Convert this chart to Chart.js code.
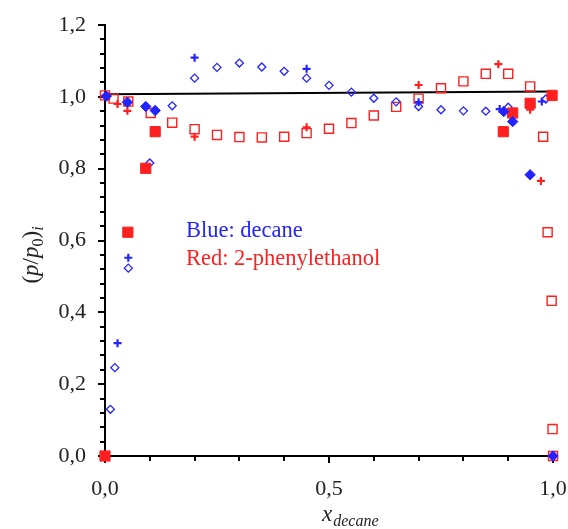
<!DOCTYPE html>
<html>
<head>
<meta charset="utf-8">
<script src="https://cdn.jsdelivr.net/npm/chart.js@4"></script>
<style>
  body { margin: 0; background: #fff; }
  canvas { display: block; }
</style>
</head>
<body>
<canvas id="graph" width="568" height="529"></canvas>
<script>
// decane: open diamonds, crosses, filled diamonds
const decOpenX = [0, 0.012, 0.022, 0.052, 0.10, 0.15, 0.20, 0.25, 0.30, 0.35, 0.40, 0.45, 0.50, 0.55, 0.60, 0.65, 0.70, 0.75, 0.80, 0.85, 0.90, 0.984];
const decOpenY = [0.0, 0.130, 0.246, 0.523, 0.816, 0.975, 1.052, 1.082, 1.094, 1.083, 1.071, 1.052, 1.032, 1.013, 0.996, 0.986, 0.973, 0.964, 0.961, 0.960, 0.971, 0.994];
const decCrossX = [0.028, 0.052, 0.20, 0.45, 0.70, 0.881, 0.975];
const decCrossY = [0.314, 0.552, 1.109, 1.078, 0.985, 0.966, 0.987];
const decFullX = [0.003, 0.05, 0.091, 0.112, 0.89, 0.91, 0.949, 1.0];
const decFullY = [1.002, 0.985, 0.973, 0.962, 0.959, 0.931, 0.783, 0.0];

// 2-phenylethanol: open squares, crosses, filled squares
const pheOpenX = [0, 0.019, 0.052, 0.102, 0.15, 0.20, 0.25, 0.30, 0.35, 0.40, 0.45, 0.50, 0.55, 0.60, 0.65, 0.70, 0.75, 0.80, 0.85, 0.90, 0.949, 0.978, 0.988, 0.997, 0.999, 1.0];
const pheOpenY = [1.004, 0.995, 0.987, 0.955, 0.928, 0.910, 0.894, 0.888, 0.887, 0.889, 0.899, 0.911, 0.927, 0.948, 0.972, 0.995, 1.024, 1.043, 1.064, 1.064, 1.029, 0.889, 0.623, 0.432, 0.075, 0.0];
const pheCrossX = [0.028, 0.05, 0.20, 0.45, 0.70, 0.878, 0.949, 0.973];
const pheCrossY = [0.980, 0.961, 0.889, 0.915, 1.033, 1.091, 0.964, 0.766];
const pheFullX = [0, 0.051, 0.091, 0.112, 0.889, 0.91, 0.949, 0.998];
const pheFullY = [0.0, 0.623, 0.801, 0.903, 0.903, 0.955, 0.982, 1.004];

// straight reference line
const refX = [0, 1];
const refY = [1.007, 1.015];

const xTicks = [0, 0.5, 1.0];
const yTicks = [0, 0.2, 0.4, 0.6, 0.8, 1.0, 1.2];

const BLUE = '#2323ff';
const RED = '#ff1f1f';
const SERIF = '"Liberation Serif", "DejaVu Serif", serif';

function pts(xs, ys) {
    return xs.map((x, i) => ({x: x, y: ys[i]}));
}

function marks(data, style, radius, color, filled, width) {
    return {
        data: data,
        pointStyle: style,
        pointRadius: radius,
        pointHoverRadius: radius,
        borderColor: color,
        backgroundColor: filled ? color : 'rgba(0,0,0,0)',
        pointBorderWidth: width,
        borderWidth: width,
        clip: false,
    };
}

// fixed axis size, no extra room for overhanging tick labels
function fixSize(s, w, h) {
    if (w) s.width = w;
    if (h) s.height = h;
    s.paddingTop = s.paddingBottom = s.paddingLeft = s.paddingRight = 0;
}

// minor/major ticks, axis titles and the colour key
const decor = {
    id: 'decor',
    beforeDatasetsDraw(chart) {
        const {ctx, chartArea: a, scales: {x, y}} = chart;
        ctx.save();
        ctx.strokeStyle = '#000';
        ctx.lineWidth = 2;
        ctx.beginPath();
        for (let i = 0; i <= 10; i++) {
            const px = Math.round(x.getPixelForValue(i / 10));
            const len = i % 5 === 0 ? 7 : 5;
            ctx.moveTo(px, a.bottom);
            ctx.lineTo(px, a.bottom + len);
        }
        for (let i = 0; i <= 30; i++) {
            const py = Math.round(y.getPixelForValue(i * 0.04));
            const len = i % 5 === 0 ? 7 : 5;
            ctx.moveTo(a.left, py);
            ctx.lineTo(a.left - len, py);
        }
        ctx.stroke();
        ctx.restore();
    },
    afterDraw(chart) {
        const {ctx} = chart;
        ctx.save();
        ctx.fillStyle = '#222';
        ctx.textBaseline = 'alphabetic';

        // x axis title: x_decane
        let cx = 322;
        ctx.font = 'italic 23px ' + SERIF;
        ctx.fillText('x', cx, 521);
        cx += ctx.measureText('x').width + 1;
        ctx.font = 'italic 16px ' + SERIF;
        ctx.fillText('decane', cx, 526);

        // y axis title: (p/p0)i, rotated
        ctx.translate(38, 255);
        ctx.rotate(-Math.PI / 2);
        const parts = [
            ['(', '23px ', 0], ['p', 'italic 23px ', 0], ['/', '23px ', 0],
            ['p', 'italic 23px ', 0], ['0', '16px ', 5], [')', '23px ', 0],
            ['i', 'italic 16px ', 5],
        ];
        let total = 0;
        parts.forEach(p => { ctx.font = p[1] + SERIF; total += ctx.measureText(p[0]).width; });
        let tx = -total / 2;
        parts.forEach(p => {
            ctx.font = p[1] + SERIF;
            ctx.fillText(p[0], tx, p[2]);
            tx += ctx.measureText(p[0]).width;
        });
        ctx.restore();

        // colour key
        ctx.save();
        ctx.font = '22.5px ' + SERIF;
        ctx.fillStyle = BLUE;
        ctx.fillText('Blue: decane', 186, 237);
        ctx.fillStyle = RED;
        ctx.fillText('Red: 2-phenylethanol', 186, 265);
        ctx.restore();
    }
};

const ctx = document.getElementById('graph').getContext('2d');

// first dataset is painted last, so the filled markers go first
const chartx = new Chart(ctx, {
    type: 'scatter',
    data: {
        datasets: [
            marks(pts(decFullX, decFullY), 'rectRot', 5.2, BLUE, true, 1),
            marks(pts(pheFullX, pheFullY), 'rect', 7.2, RED, true, 1),
            marks(pts(decCrossX, decCrossY), 'cross', 4, BLUE, false, 2.2),
            marks(pts(pheCrossX, pheCrossY), 'cross', 4, RED, false, 2.2),
            marks(pts(decOpenX, decOpenY), 'rectRot', 4, BLUE, false, 1.3),
            marks(pts(pheOpenX, pheOpenY), 'rect', 6.4, RED, false, 1.4),
            {
                type: 'line',
                data: pts(refX, refY),
                borderColor: '#000',
                borderWidth: 2,
                pointRadius: 0,
                showLine: true,
                clip: false,
            },
        ],
    },
    options: {
        responsive: false,
        animation: false,
        events: [],
        layout: { padding: { top: 25, right: 15, left: 0, bottom: 0 } },
        plugins: { legend: { display: false }, tooltip: { enabled: false } },
        scales: {
            x: {
                type: 'linear',
                min: 0,
                max: 1,
                afterFit: s => fixSize(s, 0, 73),
                afterBuildTicks: s => { s.ticks = xTicks.map(v => ({value: v})); },
                border: { display: true, color: '#000', width: 2 },
                grid: { display: true, drawOnChartArea: false, drawTicks: false },
                ticks: {
                    padding: 20,
                    color: '#222',
                    font: { family: SERIF, size: 22 },
                    maxRotation: 0,
                    callback: v => v.toFixed(1).replace('.', ','),
                },
            },
            y: {
                type: 'linear',
                min: 0,
                max: 1.2,
                afterFit: s => fixSize(s, 105, 0),
                afterBuildTicks: s => { s.ticks = yTicks.map(v => ({value: v})); },
                border: { display: true, color: '#000', width: 2 },
                grid: { display: true, drawOnChartArea: false, drawTicks: false },
                ticks: {
                    padding: 19,
                    color: '#222',
                    font: { family: SERIF, size: 22 },
                    callback: v => v.toFixed(1).replace('.', ','),
                },
            },
        },
    },
    plugins: [decor],
});
</script>
</body>
</html>
